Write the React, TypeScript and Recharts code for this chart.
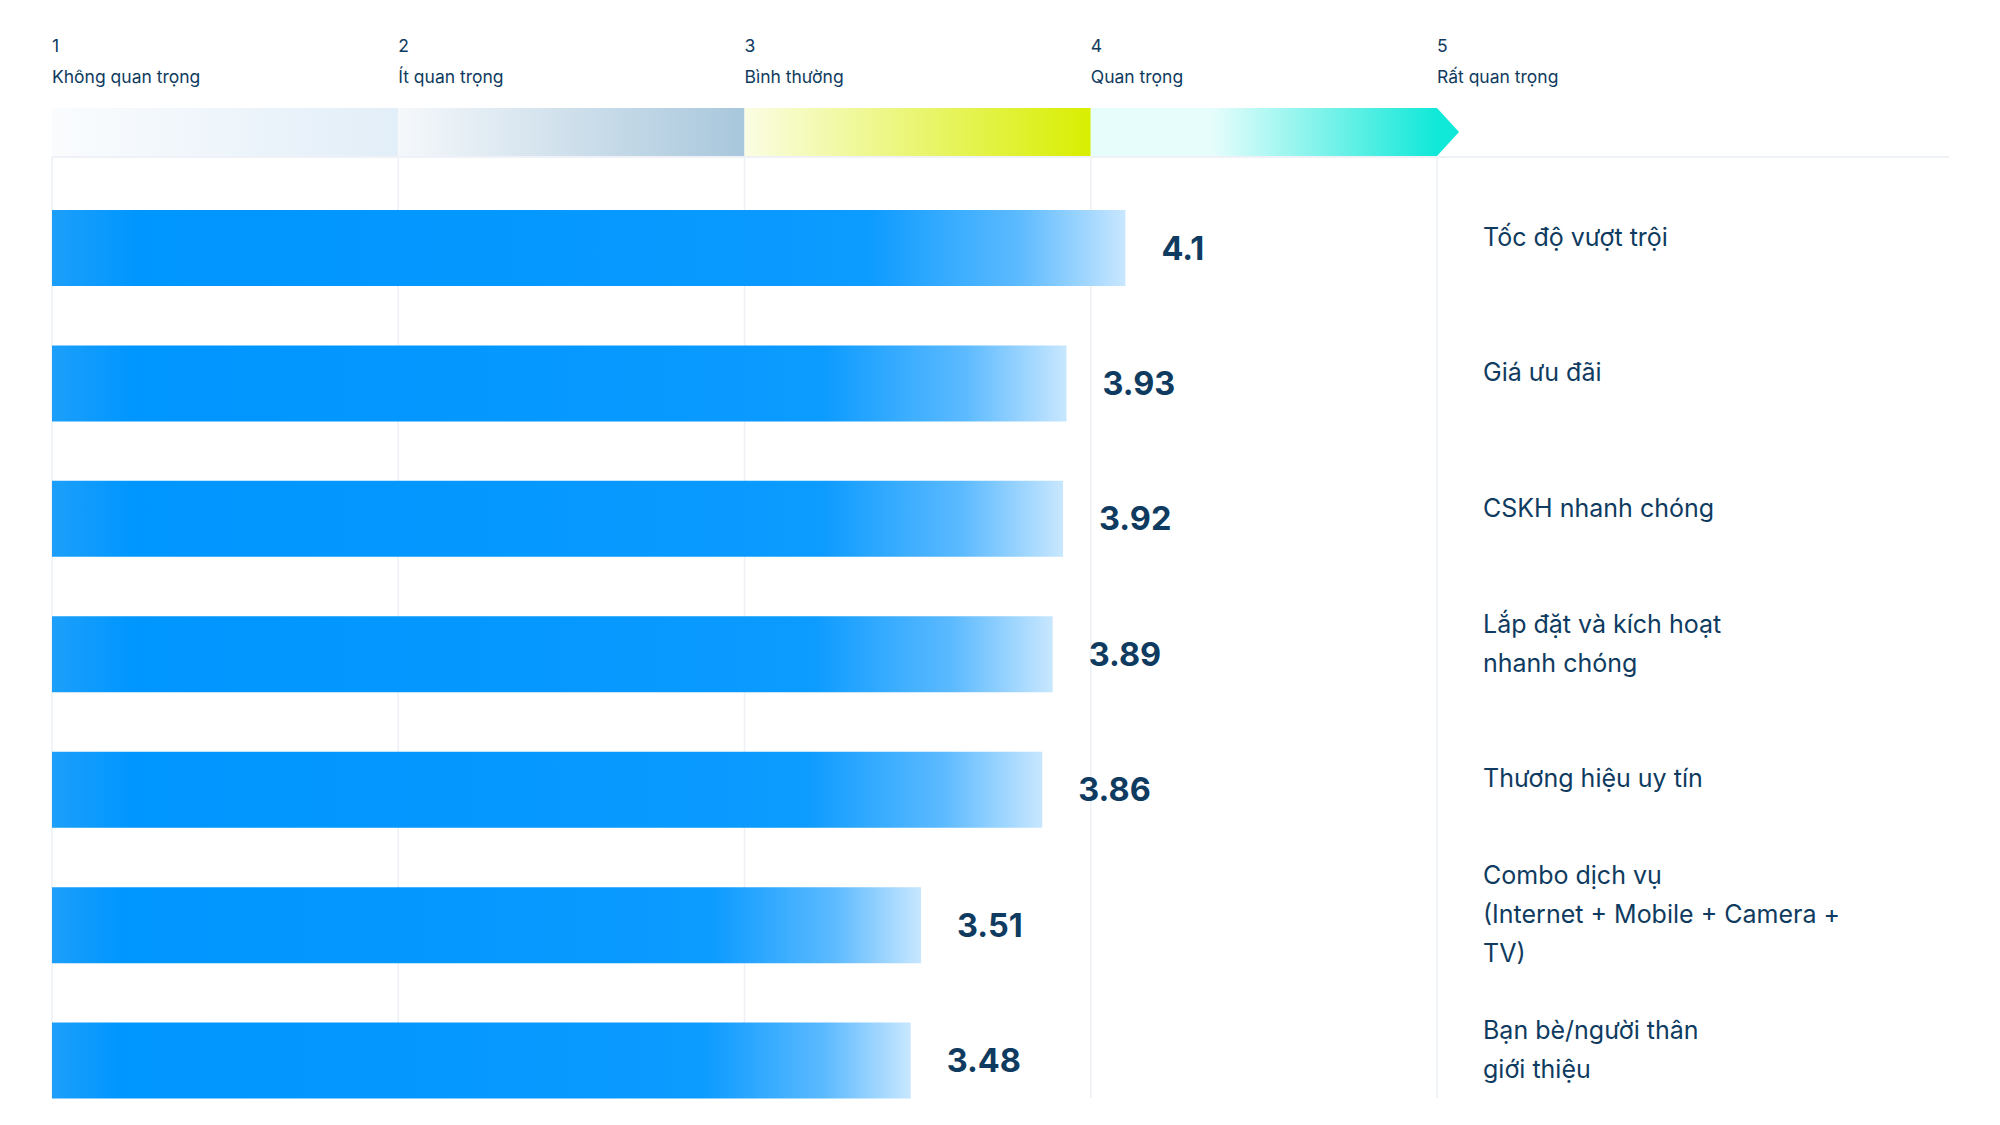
import { BarChart, Bar, XAxis, YAxis, CartesianGrid } from "recharts";

const categories = [
  "Tốc độ vượt trội",
  "Giá ưu đãi",
  "CSKH nhanh chóng",
  "Lắp đặt và kích hoạt\nnhanh chóng",
  "Thương hiệu uy tín",
  "Combo dịch vụ\n(Internet + Mobile + Camera +\nTV)",
  "Bạn bè/người thân\ngiới thiệu",
];
const scores = [4.1, 3.93, 3.92, 3.89, 3.86, 3.51, 3.48];

const scaleTicks = [1, 2, 3, 4, 5];
const scaleLabels = ["Không quan trọng", "Ít quan trọng", "Bình thường", "Quan trọng", "Rất quan trọng"];

const data = categories.map((name, i) => ({ name, score: scores[i] }));

const W = 2000;
const H = 1130;
const MARGIN = { top: 0, right: 63, left: 52, bottom: 2 };
const Y_W = 500;
const PLOT_W = W - MARGIN.left - MARGIN.right - Y_W;
const UNIT = PLOT_W / (scaleTicks.length - 1);

const NAVY = "#0f3b60";
const FONT = "Inter, 'Noto Sans', sans-serif";

// header band gradients, one per step
const bandStops: [string, string, number][] = [
  ["#fafcfe", "#e2eef8", 0],
  ["#f5f8fb", "#a8c7dc", 0],
  ["#fbfde3", "#d8ee00", 0],
  ["#e6fdfc", "#10e8d8", 0.35],
];

function HeaderTick(props: any) {
  const { x, payload, index } = props;
  const v = payload.value as number;
  return (
    <g>
      <text x={x} y={51.5} fill={NAVY} fontSize={17.5} fontFamily={FONT}>{v}</text>
      <text x={x} y={83} fill={NAVY} fontSize={17.5} fontFamily={FONT}>{scaleLabels[index]}</text>
      {index < scaleTicks.length - 1 && (
        <rect x={x} y={108} width={UNIT} height={48} fill={`url(#hg${index})`} />
      )}
      {index === scaleTicks.length - 1 && (
        <polygon points={`${x},108 ${x + 22},132 ${x},156`} fill="#10e8d8" />
      )}
      {index === 0 && <line x1={x} x2={1949} y1={157} y2={157} stroke="#eef2f6" strokeWidth={2} />}
    </g>
  );
}

function CategoryTick(props: any) {
  const { x, y, payload } = props;
  const lines = String(payload.value).split("\n");
  const lh = 39;
  const start = y - 11 - ((lines.length - 1) * lh) / 2;
  return (
    <text x={x + 46} y={start} fill={NAVY} fontSize={25} fontFamily={FONT} dominantBaseline="central">
      {lines.map((l, i) => (
        <tspan key={i} x={x + 46} y={start + i * lh}>{l}</tspan>
      ))}
    </text>
  );
}

function GridLine(props: any) {
  return <line key={props.key ?? props.index} x1={props.x1} x2={props.x2} y1={157} y2={1098} stroke="#edf0f4" strokeWidth={1.5} />;
}

export default function App() {
  return (
    <div style={{ width: W, height: 1125, overflow: "hidden", background: "#fff" }}>
      <style>{`body{margin:0;overflow:hidden}`}</style>
      <BarChart width={W} height={H} data={data} layout="vertical" margin={MARGIN}>
        <defs>
          {bandStops.map(([a, b, mid], i) => (
            <linearGradient key={i} id={`hg${i}`} x1="0" y1="0" x2="1" y2="0">
              <stop offset="0" stopColor={a} />
              <stop offset={mid} stopColor={a} />
              <stop offset="1" stopColor={b} />
            </linearGradient>
          ))}
          <linearGradient id="barGrad" x1="0" y1="0" x2="1" y2="0">
            <stop offset="0" stopColor="#1c9ffa" />
            <stop offset="0.08" stopColor="#0096ff" />
            <stop offset="0.45" stopColor="#0598ff" />
            <stop offset="0.76" stopColor="#0c9bff" />
            <stop offset="0.9" stopColor="#5cbaff" />
            <stop offset="1" stopColor="#c8e7fe" />
          </linearGradient>
        </defs>
        <CartesianGrid horizontal={false} vertical={GridLine} />
        <XAxis
          type="number"
          orientation="top"
          domain={[1, 5]}
          ticks={scaleTicks}
          interval={0}
          height={180}
          axisLine={false}
          tickLine={false}
          tick={HeaderTick}
          allowDataOverflow
        />
        <YAxis
          type="category"
          dataKey="name"
          orientation="right"
          width={Y_W}
          axisLine={false}
          tickLine={false}
          tickSize={0}
          tickMargin={0}
          interval={0}
          tick={CategoryTick}
        />
        <Bar
          dataKey="score"
          barSize={76}
          fill="url(#barGrad)"
          isAnimationActive={false}
          label={{ position: "right", offset: 36, fill: NAVY, fontSize: 32.5, fontWeight: 700, fontFamily: FONT }}
        />
      </BarChart>
    </div>
  );
}
